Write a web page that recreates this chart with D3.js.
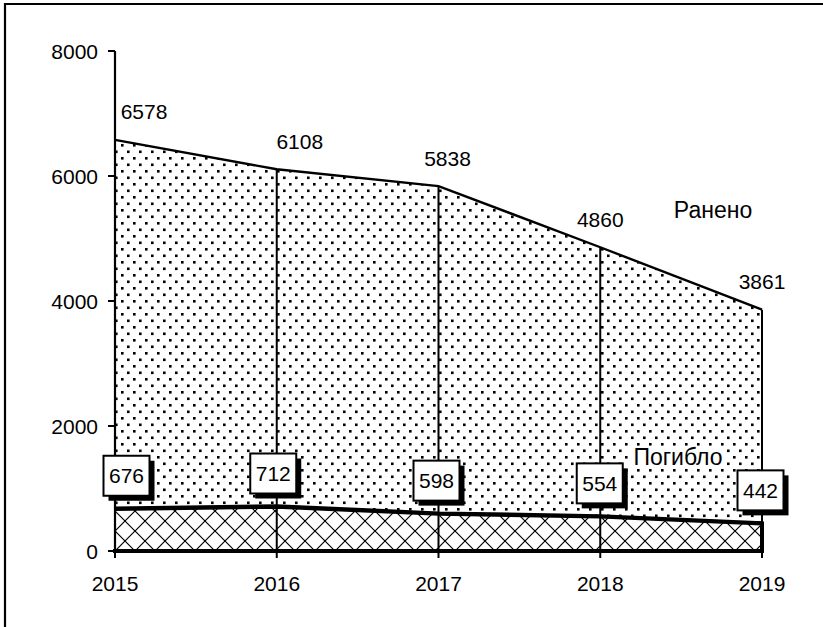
<!DOCTYPE html>
<html><head><meta charset="utf-8">
<script src="https://cdn.jsdelivr.net/npm/d3@7"></script>
<style>
html,body{margin:0;padding:0;background:#fff;}
svg text{font-family:"Liberation Sans",Arial,sans-serif;fill:#000;}
</style></head>
<body>
<svg id="chart" width="823" height="627"></svg>
<script>
const years = [2015, 2016, 2017, 2018, 2019];
const injured = [6578, 6108, 5838, 4860, 3861];
const killed = [676, 712, 598, 554, 442];
const yTicks = [0, 2000, 4000, 6000, 8000];
const seriesNames = ["Ранено", "Погибло"];
// label placement nudges (style, not data)
const injuredLabelDx = [29, 23, 9, 0, 0];
const killedLabelDx = [11.5, -3.5, -2, -0.5, -1.5];

const svg = d3.select("#chart");
const x = d3.scalePoint().domain(years).range([115, 762]);
const y = d3.scaleLinear().domain([0, 8000]).range([551, 51]);

const defs = svg.append("defs");
const dots = defs.append("pattern").attr("id","dots").attr("patternUnits","userSpaceOnUse")
  .attr("width",12).attr("height",13);
dots.append("rect").attr("width",12).attr("height",13).attr("fill","#fff");
dots.append("rect").attr("x",1).attr("y",1).attr("width",2.6).attr("height",2.6).attr("fill","#000");
dots.append("rect").attr("x",7).attr("y",7.5).attr("width",2.6).attr("height",2.6).attr("fill","#000");

const cross = defs.append("pattern").attr("id","cross").attr("patternUnits","userSpaceOnUse")
  .attr("width",20).attr("height",20).attr("x",115).attr("y",551);
cross.append("rect").attr("width",20).attr("height",20).attr("fill","#fff");
cross.append("path").attr("d","M0,0L20,20M20,0L0,20M-10,10L10,30M10,-10L30,10M10,-10L-10,10M30,10L10,30")
  .attr("stroke","#000").attr("stroke-width",1.2);

// frame
svg.append("path").attr("d","M5,630V4H830").attr("fill","none").attr("stroke","#000").attr("stroke-width",2.2);

// injured area
const areaI = d3.area().x((d,i)=>x(years[i])).y0(y(0)).y1(d=>y(d));
svg.append("path").datum(injured).attr("d",areaI).attr("fill","url(#dots)");
svg.append("path").datum(injured).attr("d",d3.line().x((d,i)=>x(years[i])).y(d=>y(d)))
  .attr("fill","none").attr("stroke","#000").attr("stroke-width",2.4);

// killed area
svg.append("path").datum(killed).attr("d",areaI).attr("fill","url(#cross)");

// drop lines
svg.selectAll(".drop").data(injured).join("line")
  .attr("x1",(d,i)=>x(years[i])).attr("x2",(d,i)=>x(years[i]))
  .attr("y1",d=>y(d)).attr("y2",y(0)).attr("stroke","#000").attr("stroke-width",2);

// killed top line
svg.append("path").datum(killed).attr("d",d3.line().x((d,i)=>x(years[i])).y(d=>y(d)))
  .attr("fill","none").attr("stroke","#000").attr("stroke-width",4.5);
// killed right edge
svg.append("line").attr("x1",x(2019)).attr("x2",x(2019)).attr("y1",y(killed[4])-2).attr("y2",y(0))
  .attr("stroke","#000").attr("stroke-width",4);

// y axis
const yAxis = svg.append("g");
yAxis.append("line").attr("x1",115).attr("x2",115).attr("y1",y(8000)).attr("y2",y(0)+2).attr("stroke","#000").attr("stroke-width",2.2);
yAxis.selectAll(".yt").data(yTicks).join("line").attr("x1",108).attr("x2",115)
  .attr("y1",d=>y(d)).attr("y2",d=>y(d)).attr("stroke","#000").attr("stroke-width",2);
yAxis.selectAll(".yl").data(yTicks).join("text").attr("x",98).attr("y",d=>y(d))
  .attr("text-anchor","end").attr("dominant-baseline","central").attr("font-size",21).text(d=>d);

// x axis
svg.append("line").attr("x1",113).attr("x2",x(2019)+2).attr("y1",y(0)).attr("y2",y(0)).attr("stroke","#000").attr("stroke-width",4);
svg.selectAll(".xt").data(years).join("line").attr("x1",d=>x(d)).attr("x2",d=>x(d))
  .attr("y1",y(0)).attr("y2",y(0)+7).attr("stroke","#000").attr("stroke-width",2);
svg.selectAll(".xl").data(years).join("text").attr("x",d=>x(d)).attr("y",583)
  .attr("text-anchor","middle").attr("dominant-baseline","central").attr("font-size",21).text(d=>d);

// injured labels
svg.selectAll(".il").data(injured).join("text")
  .attr("x",(d,i)=>x(years[i])+injuredLabelDx[i]).attr("y",d=>y(d)-28)
  .attr("text-anchor","middle").attr("dominant-baseline","central").attr("font-size",21).text(d=>d);

// killed labels (boxes with shadow)
const bw=46, bh=40;
const kg = svg.selectAll(".kl").data(killed).join("g")
  .attr("transform",(d,i)=>`translate(${x(years[i])+killedLabelDx[i]},${y(d)-33})`);
kg.append("rect").attr("x",-bw/2+5).attr("y",-bh/2+5).attr("width",bw).attr("height",bh).attr("fill","#000");
kg.append("rect").attr("x",-bw/2).attr("y",-bh/2).attr("width",bw).attr("height",bh)
  .attr("fill","#fff").attr("stroke","#000").attr("stroke-width",2);
kg.append("text").attr("x",0).attr("y",0).attr("text-anchor","middle").attr("dominant-baseline","central")
  .attr("font-size",21).text(d=>d);

// series names
svg.append("text").attr("x",713).attr("y",210).attr("text-anchor","middle").attr("dominant-baseline","central")
  .attr("font-size",23).text(seriesNames[0]);
const kname = svg.append("g");
const kt = kname.append("text").attr("x",678).attr("y",457).attr("text-anchor","middle").attr("dominant-baseline","central")
  .attr("font-size",23).text(seriesNames[1]);
const bb = kt.node().getBBox();
kname.insert("rect","text").attr("x",bb.x-3).attr("y",bb.y+2).attr("width",bb.width+6).attr("height",bb.height-3).attr("fill","#fff");
</script>
</body></html>
